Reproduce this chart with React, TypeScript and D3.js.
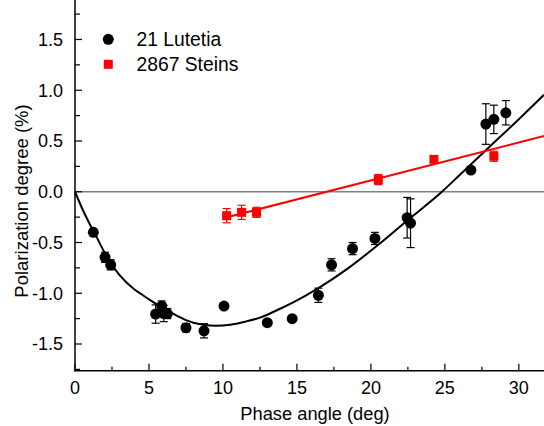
import React from "react";
import * as d3 from "d3";

// Lutetia observations: phase angle, polarization, error
const lutX = [1.24, 2.03, 2.41, 5.45, 5.86, 6.0, 6.24, 7.5, 8.72, 10.07, 13.0, 14.68, 16.45, 17.34, 18.76, 20.27, 22.45, 22.68, 26.76, 27.77, 28.31, 29.12];
const lutY = [-0.40, -0.646, -0.72, -1.205, -1.126, -1.2, -1.2, -1.34, -1.37, -1.126, -1.29, -1.25, -1.02, -0.72, -0.56, -0.46, -0.256, -0.31, 0.214, 0.667, 0.713, 0.778];
const lutE = [0, 0.05, 0.05, 0.09, 0.05, 0.08, 0.05, 0.04, 0.07, 0, 0, 0, 0.07, 0.06, 0.06, 0.06, 0.2, 0.24, 0, 0.2, 0.14, 0.12];

// Steins observations
const steX = [10.25, 11.26, 12.27, 20.5, 24.26, 28.31];
const steY = [-0.236, -0.203, -0.203, 0.12, 0.319, 0.35];
const steE = [0.07, 0.07, 0.05, 0.05, 0.03, 0.05];

// Fitted curve for Lutetia
const fitX = [0, 0.5, 1.0, 1.3, 2.0, 3.0, 4.0, 4.5, 5.0, 6.0, 7.0, 7.5, 8.0, 8.7, 9.5, 10.5, 11.5, 12.5, 13.9, 14.75, 16.45, 18.4, 20.6, 22.4, 24.8, 26.0, 28.0, 30.0, 31.7];
const fitY = [0, -0.17, -0.32, -0.40, -0.60, -0.82, -0.96, -1.01, -1.06, -1.15, -1.23, -1.265, -1.29, -1.31, -1.32, -1.31, -1.28, -1.24, -1.15, -1.09, -0.95, -0.76, -0.51, -0.29, 0.0, 0.165, 0.44, 0.715, 0.955];

// Linear fit for Steins
const steFitX = [10.0, 31.7];
const steFitY = [-0.262, 0.549];

const xTicks = [0, 5, 10, 15, 20, 25, 30];
const xMinor = [2.5, 7.5, 12.5, 17.5, 22.5, 27.5];
const yTicks = [-1.5, -1.0, -0.5, 0.0, 0.5, 1.0, 1.5];
const yMinor = [-1.75, -1.25, -0.75, -0.25, 0.25, 0.75, 1.25, 1.75];

const legendNames = ["21 Lutetia", "2867 Steins"];

export default function App() {
  const W = 544, H = 426;
  const x = d3.scaleLinear().domain([0, 31.7]).range([75, 544]);
  const y = d3.scaleLinear().domain([-1.763, 1.889]).range([370.7, 0]);
  const font = "'Liberation Sans', Arial, sans-serif";

  const fitLine = d3.line<number>().x((_, i) => x(fitX[i])).y((d) => y(d)).curve(d3.curveMonotoneX)(fitY) || "";
  const steLine = d3.line<number>().x((_, i) => x(steFitX[i])).y((d) => y(d))(steFitY) || "";

  const errBar = (cx: number, cy: number, e: number, color: string, key: string) => {
    if (!e) return null;
    const y1 = y(cy + e), y2 = y(cy - e), px = x(cx);
    return (
      <g key={key} stroke={color} strokeWidth={1.2}>
        <line x1={px} x2={px} y1={y1} y2={y2} />
        <line x1={px - 4} x2={px + 4} y1={y1} y2={y1} />
        <line x1={px - 4} x2={px + 4} y1={y2} y2={y2} />
      </g>
    );
  };

  return (
    <svg width={W} height={H} style={{ position: "absolute", left: 0, top: 0 }} fontFamily={font}>
      <rect width={W} height={H} fill="white" />
      {/* zero line */}
      <line x1={x(0)} x2={W} y1={y(0)} y2={y(0)} stroke="#808080" strokeWidth={1.5} />
      {/* axes */}
      <line x1={75} x2={75} y1={0} y2={371.5} stroke="black" strokeWidth={1.5} />
      <line x1={74.3} x2={W} y1={370.7} y2={370.7} stroke="black" strokeWidth={1.5} />
      {xTicks.map((t) => (
        <g key={"xt" + t}>
          <line x1={x(t)} x2={x(t)} y1={370.7} y2={363.7} stroke="black" strokeWidth={1.2} />
          <text x={x(t)} y={393.5} textAnchor="middle" fontSize={18}>{t}</text>
        </g>
      ))}
      {xMinor.map((t) => (
        <line key={"xm" + t} x1={x(t)} x2={x(t)} y1={370.7} y2={366.7} stroke="black" strokeWidth={1.2} />
      ))}
      {yTicks.map((t) => (
        <g key={"yt" + t}>
          <line x1={75} x2={82} y1={y(t)} y2={y(t)} stroke="black" strokeWidth={1.2} />
          <text x={63} y={y(t) + 6.3} textAnchor="end" fontSize={18}>{t.toFixed(1)}</text>
        </g>
      ))}
      {yMinor.map((t) => (
        <line key={"ym" + t} x1={75} x2={80} y1={y(t)} y2={y(t)} stroke="black" strokeWidth={1.2} />
      ))}
      <text x={315} y={420} textAnchor="middle" fontSize={18.3}>Phase angle (deg)</text>
      <text transform={`translate(27.5,${201}) rotate(-90)`} textAnchor="middle" fontSize={18.5}>Polarization degree (%)</text>

      {/* fits */}
      <path d={fitLine} fill="none" stroke="black" strokeWidth={2} />
      <path d={steLine} fill="none" stroke="#ff0000" strokeWidth={2} />

      {/* Steins */}
      {steX.map((v, i) => errBar(v, steY[i], steE[i], "#ff0000", "se" + i))}
      {steX.map((v, i) => (
        <rect key={"sp" + i} x={x(v) - 4.5} y={y(steY[i]) - 4.5} width={9} height={9} fill="#ff0000" />
      ))}

      {/* Lutetia */}
      {lutX.map((v, i) => errBar(v, lutY[i], lutE[i], "black", "le" + i))}
      {lutX.map((v, i) => (
        <circle key={"lp" + i} cx={x(v)} cy={y(lutY[i])} r={5.5} fill="black" />
      ))}

      {/* legend */}
      <circle cx={108.3} cy={39.3} r={5.5} fill="black" />
      <text x={136.5} y={46} fontSize={19.3}>{legendNames[0]}</text>
      <rect x={108.3 - 4.5} y={64.3 - 4.5} width={9} height={9} fill="#ff0000" />
      <text x={136.5} y={70.5} fontSize={19.3}>{legendNames[1]}</text>
    </svg>
  );
}
